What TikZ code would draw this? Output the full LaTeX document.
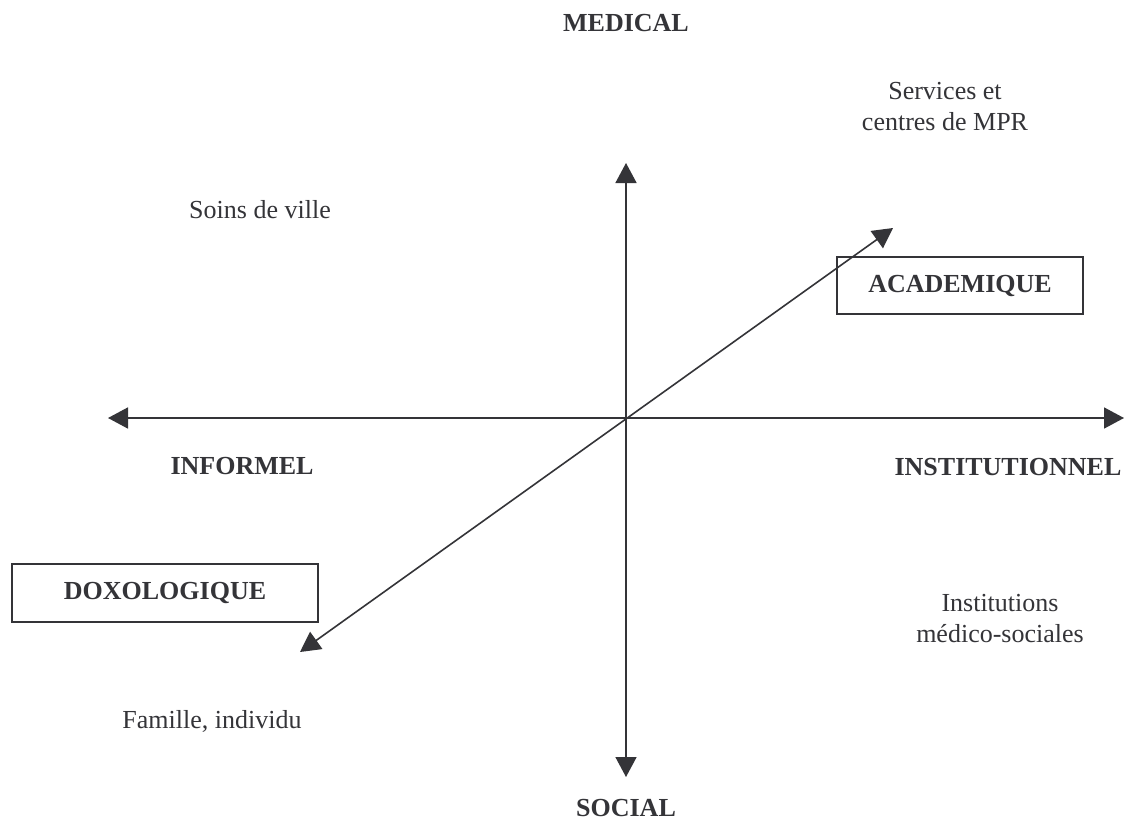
\documentclass[tikz,border=0pt]{standalone}
\usepackage{fontspec}
\setmainfont{Liberation Serif}
\usetikzlibrary{arrows.meta}
\definecolor{ink}{RGB}{52,52,56}
\begin{document}
\begin{tikzpicture}[x=1pt,y=-1pt,
  both/.style={draw=ink,line width=1.6pt,{Triangle[length=20pt,width=21pt]}-{Triangle[length=20pt,width=21pt]}},
  label/.style={text=ink,font=\fontsize{26}{31}\selectfont,align=center,inner sep=0pt},
  title/.style={label,font=\fontsize{26}{31}\selectfont\bfseries},
  framebox/.style={draw=ink,line width=1.6pt,text=ink,font=\fontsize{26}{31}\selectfont\bfseries,inner sep=0pt}]
\useasboundingbox (0,0) rectangle (1127,827);
\fill[white] (0,0) rectangle (1127,827);
% axis end points
\coordinate (top) at (626,163);
\coordinate (bot) at (626,777);
\coordinate (lft) at (108,418);
\coordinate (rgt) at (1124,418);
\coordinate (dl) at (300,652);
\coordinate (ur) at (893,228);
% axes
\draw[both] (bot) -- (top);
\draw[both] (lft) -- (rgt);
\draw[both] (dl) -- (ur);
% boxes
\node[framebox,minimum width=246pt,minimum height=57pt] (acad) at (960,285.5) {ACADEMIQUE};
\node[framebox,minimum width=306pt,minimum height=58pt] (doxo) at (165,593) {DOXOLOGIQUE};
% pole titles
\node[title] (med) at (626,23) {MEDICAL};
\node[title] (soc) at (626,808) {SOCIAL};
\node[title] (inf) at (242,466) {INFORMEL};
\node[title] (ins) at (1008,467) {INSTITUTIONNEL};
% quadrant labels
\node[label] (soins) at (260,210) {Soins de ville};
\node[label] (serv) at (945,107) {Services et\\centres de MPR};
\node[label] (instm) at (1000,619) {Institutions\\médico-sociales};
\node[label] (fam) at (212,721) {Famille, individu};
\end{tikzpicture}
\end{document}
